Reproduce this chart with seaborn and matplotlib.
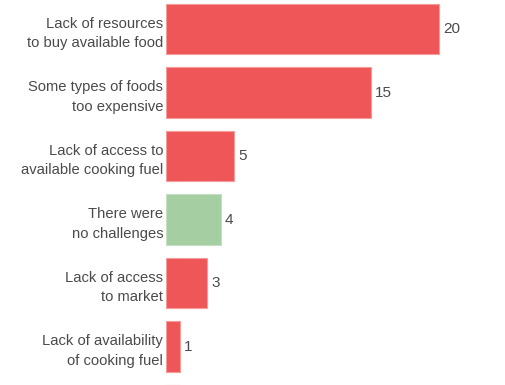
import pandas as pd
import seaborn as sns
import matplotlib.pyplot as plt

# Data
categories = ['Lack of resources\nto buy available food',
              'Some types of foods\ntoo expensive',
              'Lack of access to\navailable cooking fuel',
              'There were\nno challenges',
              'Lack of access\nto market',
              'Lack of availability\nof cooking fuel',
              'Other']
values = [20, 15, 5, 4, 3, 1, 1]
colors = ['#EF5658', '#EF5658', '#EF5658', '#A5CFA3', '#EF5658', '#EF5658', '#EF5658']
edges = ['#F59A9B', '#F59A9B', '#F59A9B', '#C6E0C4', '#F59A9B', '#F59A9B', '#F59A9B']

df = pd.DataFrame({'category': categories, 'value': values})

plt.rcParams['font.family'] = ['Liberation Sans', 'DejaVu Sans']

fig = plt.figure(figsize=(5.06, 3.85), dpi=100)
ax = fig.add_axes([166 / 506, 0, 1 - 166 / 506, 1])

sns.barplot(data=df, x='value', y='category', order=categories,
            palette=colors, hue='category', legend=False, saturation=1,
            width=0.79, linewidth=0.8, ax=ax)
for patch, ec in zip(ax.patches, edges):
    patch.set_edgecolor(ec)

ax.set_xlim(0, 24.9)
ax.set_ylim(5.606, -0.457)

# value labels (the last bar is cut off at the bottom edge)
for i, v in enumerate(values[:-1]):
    ax.text(v + 0.3, i, str(v), va='center', ha='left', fontsize=11, color='#4a4a4a')

ax.set_xlabel('')
ax.set_ylabel('')
ax.set_xticks([])
ax.tick_params(axis='y', length=0, pad=2, labelsize=10.6, labelcolor='#4a4a4a')
for lbl in ax.get_yticklabels():
    lbl.set_multialignment('right')
    lbl.set_linespacing(1.5)
for s in ax.spines.values():
    s.set_visible(False)

fig.savefig('out.png', dpi=100)
